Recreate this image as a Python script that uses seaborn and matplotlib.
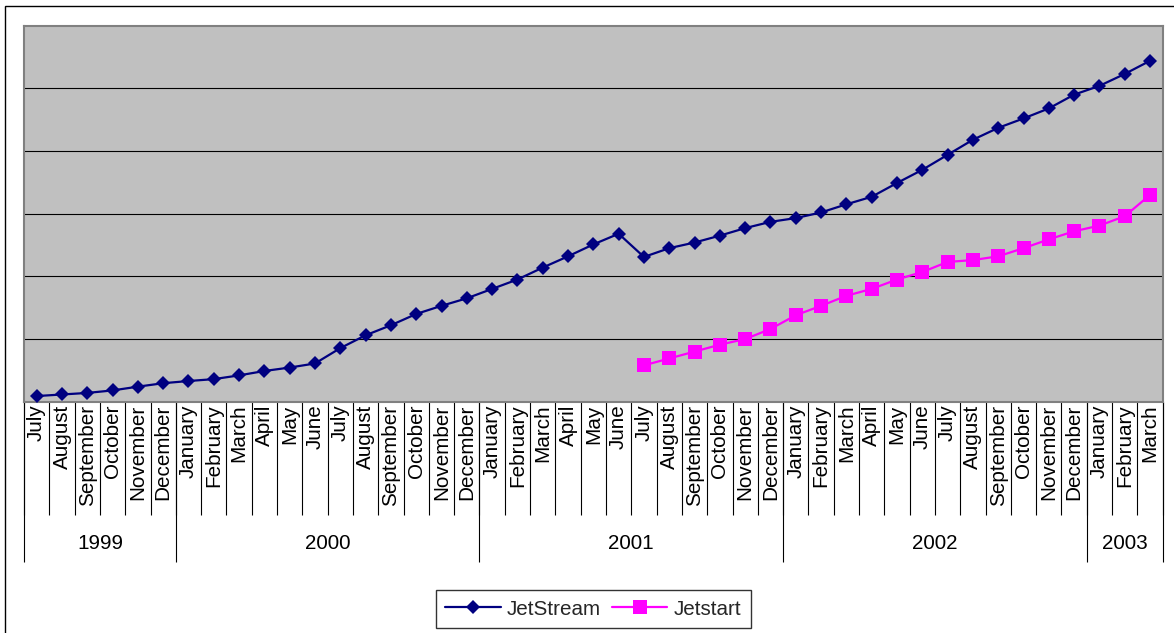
import numpy as np
import pandas as pd
import matplotlib
matplotlib.use("Agg")
import matplotlib.pyplot as plt
import seaborn as sns
from matplotlib.transforms import blended_transform_factory
from matplotlib.patches import Rectangle
from matplotlib.lines import Line2D

# ---------------- data ----------------
months = ["July", "August", "September", "October", "November", "December",
          "January", "February", "March", "April", "May", "June",
          "July", "August", "September", "October", "November", "December",
          "January", "February", "March", "April", "May", "June",
          "July", "August", "September", "October", "November", "December",
          "January", "February", "March", "April", "May", "June",
          "July", "August", "September", "October", "November", "December",
          "January", "February", "March"]
years = ["1999", "2000", "2001", "2002", "2003"]
year_counts = [6, 12, 12, 12, 3]

jetstream = [0.09, 0.115, 0.14, 0.18, 0.24, 0.295, 0.33, 0.36, 0.42, 0.49, 0.545, 0.61,
             0.855, 1.06, 1.22, 1.40, 1.53, 1.65, 1.80, 1.95, 2.14, 2.32, 2.51, 2.68,
             2.31, 2.45, 2.54, 2.65, 2.77, 2.87, 2.93, 3.02, 3.15, 3.27, 3.49, 3.70,
             3.94, 4.18, 4.37, 4.52, 4.68, 4.90, 5.04, 5.23, 5.44]
jetstart = [np.nan] * 24 + [0.58, 0.69, 0.80, 0.91, 1.00, 1.16, 1.38, 1.53, 1.69, 1.80,
                            1.95, 2.07, 2.23, 2.26, 2.32, 2.45, 2.59, 2.72, 2.81, 2.96, 3.30]

# ---------------- style ----------------
sns.set_theme(style="white")
plt.rcParams["font.family"] = ["Liberation Sans", "DejaVu Sans"]

W, H = 1174, 633
L, R, T, B = 24, 1162.7, 25.7, 401.7
FS = 14.9
MS_D, MS_S = 7.6, 9.4

fig = plt.figure(figsize=(W / 100, H / 100), dpi=100)
fig.patch.set_facecolor("white")
ax = fig.add_axes([L / W, 1 - B / H, (R - L) / W, (B - T) / H])
ax.set_facecolor("#C0C0C0")

idx = np.arange(len(months))
df = pd.DataFrame({"idx": idx, "JetStream": jetstream, "Jetstart": jetstart})

sns.lineplot(data=df, x="idx", y="JetStream", ax=ax, color="#000080", marker="D",
             markersize=MS_D, markeredgewidth=0, linewidth=1.6, zorder=4)
sns.lineplot(data=df.dropna(), x="idx", y="Jetstart", ax=ax, color="#FF00FF", marker="s",
             markersize=MS_S, markeredgewidth=0, linewidth=1.6, zorder=4)

ax.set_xlim(-0.5, len(months) - 0.5)
ax.set_ylim(0, 6)
ax.set_yticks([1, 2, 3, 4, 5])
ax.set_yticklabels([])
ax.yaxis.grid(True, color="black", linewidth=0.8, zorder=1)
ax.xaxis.grid(False)
ax.set_axisbelow(True)
ax.set_xlabel("")
ax.set_ylabel("")
ax.tick_params(axis="y", length=0)

ax.set_xticks(idx)
ax.set_xticklabels(months, rotation=90, va="top", ha="center", fontsize=FS, color="black")
ax.tick_params(axis="x", length=0, pad=2)

for s in ax.spines.values():
    s.set_color("#808080")
    s.set_linewidth(1.5)

# separators and year labels below the axis
axh = B - T
trans = blended_transform_factory(ax.transData, ax.transAxes)
month_depth = -(515 - B) / axh
year_depth = -(561.7 - B) / axh
year_label_y = -(543.5 - B) / axh

for b in np.arange(-0.5, len(months), 1.0):
    ax.plot([b, b], [0, month_depth], transform=trans, color="black", lw=0.8,
            clip_on=False, solid_capstyle="butt")

bounds = np.concatenate([[0], np.cumsum(year_counts)]) - 0.5
for b in bounds:
    ax.plot([b, b], [0, year_depth], transform=trans, color="black", lw=0.8,
            clip_on=False, solid_capstyle="butt")
for y, a, b in zip(years, bounds[:-1], bounds[1:]):
    ax.text((a + b) / 2, year_label_y, y, transform=trans, ha="center", va="center",
            fontsize=FS, color="black")

# outer frame
fig.patches.append(Rectangle((4.5 / W, -0.05), 1.2, 1.05 - 6.5 / H, transform=fig.transFigure,
                             fill=False, edgecolor="black", linewidth=1.0))

# legend
handles = [Line2D([], [], color="#000080", marker="D", markersize=MS_D, markeredgewidth=0, lw=1.6),
           Line2D([], [], color="#FF00FF", marker="s", markersize=MS_S, markeredgewidth=0, lw=1.6)]
leg = fig.legend(handles, ["JetStream", "Jetstart"], ncol=2, loc="center",
                 bbox_to_anchor=((434 + 752.3) / 2 / W, 1 - (588.3 + 630) / 2 / H),
                 frameon=True, fancybox=False, shadow=False, fontsize=FS,
                 handlelength=2.7, handletextpad=0.3, columnspacing=0.5,
                 borderpad=0.45, numpoints=1, edgecolor="black")
leg.get_frame().set_linewidth(1.0)
leg.get_frame().set_facecolor("white")

fig.savefig("out.png", dpi=100)
